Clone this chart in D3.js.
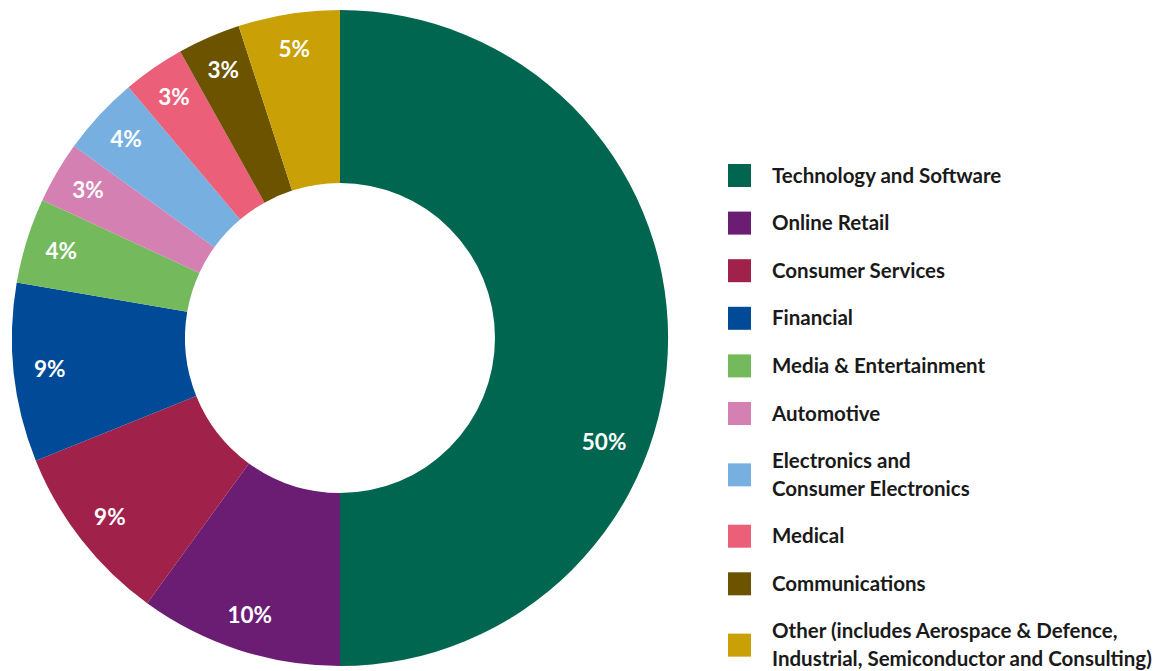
<!DOCTYPE html>
<html>
<head>
<meta charset="utf-8">
<script src="https://cdn.jsdelivr.net/npm/d3@7/dist/d3.min.js"></script>
<style>
  html, body { margin: 0; padding: 0; background: #fff; }
  svg text { font-family: "Lato", "Noto Sans", sans-serif; font-weight: 700; }
</style>
</head>
<body>
<div id="chart"></div>
<script>
// Industry split (percent of customers)
const categories = [
    'Technology and Software',
    'Online Retail',
    'Consumer Services',
    'Financial',
    'Media & Entertainment',
    'Automotive',
    'Electronics and\nConsumer Electronics',
    'Medical',
    'Communications',
    'Other (includes Aerospace & Defence,\nIndustrial, Semiconductor and Consulting)'
];
const shares = [50, 10, 8.9, 8.8, 4.2, 3.05, 3.9, 3.05, 3.1, 5.0];
const colors = ['#00664f', '#6a1d73', '#a0224a', '#004a97', '#74b95c',
                '#d480b2', '#77b0e0', '#eb5f78', '#6b5300', '#c9a005'];

const width = 1174, height = 671;
const cx = 340, cy = 338;
const outerR = 328, innerR = 155, labelR = 292;

const svg = d3.select('#chart')
    .append('svg')
    .attr('width', width)
    .attr('height', height);

const data = categories.map((c, i) => ({ name: c, value: shares[i], color: colors[i] }));

const pie = d3.pie()
    .value(d => d.value)
    .sort(null);

const arc = d3.arc()
    .innerRadius(innerR)
    .outerRadius(outerR);

const arcs = pie(data);

const g = svg.append('g')
    .attr('transform', `translate(${cx},${cy})`);

g.selectAll('path')
    .data(arcs)
    .enter()
    .append('path')
    .attr('d', arc)
    .attr('fill', d => d.data.color);

// percent labels - the half-circle slice puts its label lower down than the middle
g.selectAll('text')
    .data(arcs)
    .enter()
    .append('text')
    .attr('transform', d => {
        const big = d.data.value >= 50;
        const a = d.startAngle + (d.endAngle - d.startAngle) * (big ? 0.62 : 0.5);
        const r = big ? 284 : labelR;
        return `translate(${Math.sin(a) * r},${-Math.cos(a) * r})`;
    })
    .attr('text-anchor', 'middle')
    .attr('dy', '0.33em')
    .attr('font-size', '22.5px')
    .attr('fill', '#fff')
    .text(d => Math.round(d.data.value) + '%');

// legend
const legend = svg.append('g')
    .attr('transform', 'translate(728,175)');

const rowGap = 47.6, lineH = 27.5;
let y = 0;
data.forEach(d => {
    const lines = d.name.split('\n');
    const extra = (lines.length - 1) * lineH / 2;
    y += extra;
    const item = legend.append('g').attr('transform', `translate(0,${y})`);
    item.append('rect')
        .attr('y', -11)
        .attr('width', 23)
        .attr('height', 23)
        .attr('fill', d.color);
    const t = item.append('text')
        .attr('font-size', '20.5px')
        .attr('fill', '#1a1a1a');
    lines.forEach((ln, i) => {
        t.append('tspan')
            .attr('x', 44)
            .attr('y', 7.5 + (i - (lines.length - 1) / 2) * lineH)
            .text(ln);
    });
    y += rowGap + extra;
});
</script>
</body>
</html>
